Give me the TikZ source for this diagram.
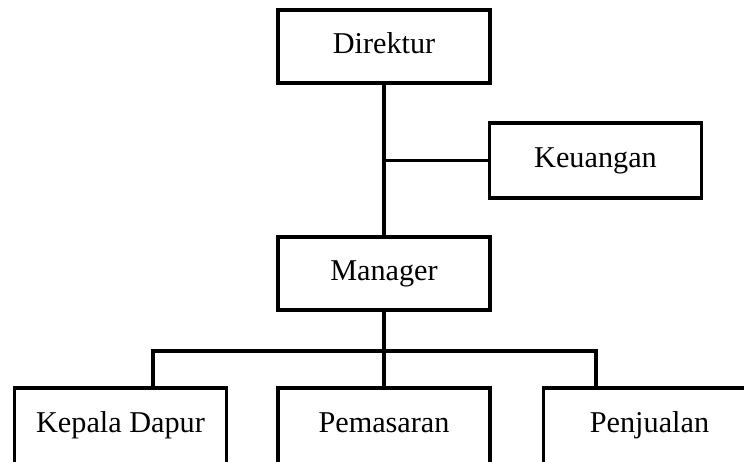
\documentclass[tikz,border=0pt]{standalone}
\usepackage{fontspec}
\setmainfont{Liberation Serif}
\usetikzlibrary{positioning}

\begin{document}
\begin{tikzpicture}[x=0.025cm,y=-0.025cm,line width=2.6pt,
                    org node/.style={rectangle,draw,minimum width=212*0.025cm,minimum height=73*0.025cm,
                                     inner sep=0pt,text height=14.5pt,text depth=5pt,
                                     font=\fontsize{21.5}{24}\selectfont}]
        \useasboundingbox (0,0) rectangle (744,461);
        \clip (0,0) rectangle (744,461);

        \node[org node] (1) at (384,46.5) {Direktur};
        \node[org node,minimum height=75*0.025cm] (2) at (595.5,160.5) {Keuangan};
        \node[org node] (3) at (384,273.5) {Manager};
        \node[org node,minimum height=76*0.025cm] (4) at (120.5,426) {Kepala Dapur};
        \node[org node,minimum height=76*0.025cm] (5) at (384,426) {Pemasaran};
        \node[org node,minimum height=76*0.025cm] (6) at (649.5,426) {Penjualan};

        \coordinate (k) at (384,160.5);
        \coordinate (bl) at (153,351);
        \coordinate (bm) at (384,351);
        \coordinate (br) at (596,351);

        \draw (1) -- (3);
        \draw (k) -- (2.west);
        \draw (3) -- (bm);
        \draw (bl |- 4.north) -- (bl) -- (br) -- (br |- 6.north);
        \draw (bm) -- (5);
      \end{tikzpicture}
\end{document}
